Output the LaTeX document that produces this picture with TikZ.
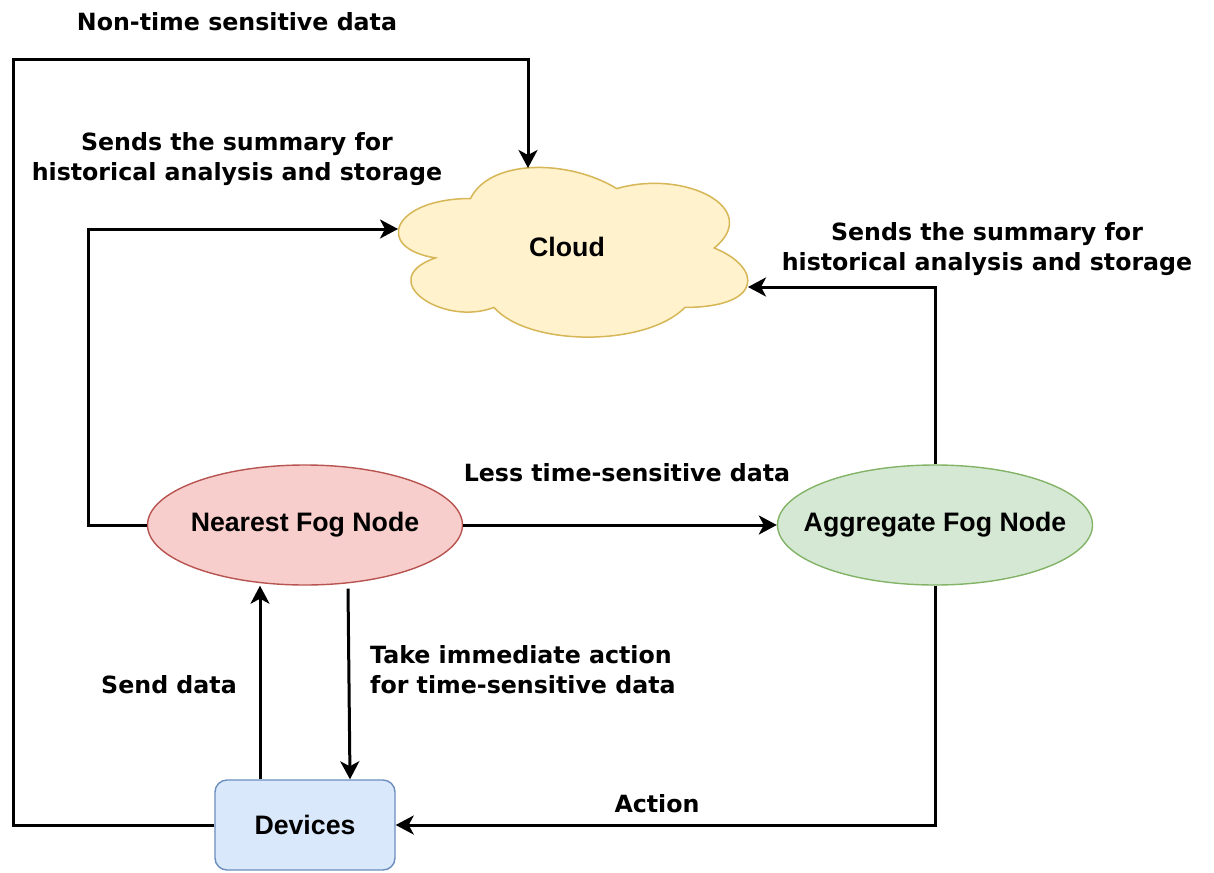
\documentclass[tikz,border=0pt]{standalone}
\usepackage{fontspec}
\setmainfont{Liberation Sans}
\newfontfamily\lblfont{DejaVu Sans}
\usetikzlibrary{arrows.meta,shapes.geometric,calc}
\definecolor{cloudfill}{HTML}{FFF2CC}
\definecolor{clouddraw}{HTML}{D6B656}
\definecolor{redfill}{HTML}{F8CECC}
\definecolor{reddraw}{HTML}{B85450}
\definecolor{greenfill}{HTML}{D5E8D4}
\definecolor{greendraw}{HTML}{82B366}
\definecolor{bluefill}{HTML}{DAE8FC}
\definecolor{bluedraw}{HTML}{6C8EBF}
\begin{document}
\begin{tikzpicture}[x=1pt,y=-1pt,
  conn/.style={line width=3pt,line join=miter,-{Stealth[length=18pt,width=19pt,inset=5pt]}},
  lbl/.style={font=\lblfont\bfseries\fontsize{23.7}{30}\selectfont,align=center,inner sep=0pt},
  nodetext/.style={font=\bfseries\fontsize{26.7}{30}\selectfont},
  fognode/.style={ellipse,minimum width=315pt,minimum height=120pt,line width=1.4pt,inner sep=0pt,nodetext}
]
\useasboundingbox (0,0) rectangle (1214,872);

% cloud shape
\draw[fill=cloudfill,draw=clouddraw,line width=1.5pt]
  (470.5,198.5)
  .. controls (392.5,198.5) and (373,248) .. (435.4,257.9)
  .. controls (373,279.7) and (443.2,327.2) .. (493.9,307.4)
  .. controls (529,347) and (646,347) .. (685,307.4)
  .. controls (763,307.4) and (763,267.8) .. (714.25,248)
  .. controls (763,208.4) and (685,168.8) .. (616.75,188.6)
  .. controls (568,158.9) and (490,158.9) .. (470.5,198.5) -- cycle;
\node[nodetext] (cl) at (567,247) {Cloud};
\coordinate (ctop) at (528,168);
\coordinate (cleft) at (398,229);
\coordinate (cright) at (748,287);

\node[fognode,draw=reddraw,fill=redfill] (nf) at (305,525) {\makebox[0pt]{Nearest Fog Node}};
\node[fognode,draw=greendraw,fill=greenfill] (af) at (935,525) {\makebox[0pt]{Aggregate Fog Node}};
\node[rectangle,rounded corners=12pt,draw=bluedraw,fill=bluefill,line width=1.4pt,minimum width=180pt,minimum height=90pt,nodetext] (dev) at (305,825) {Devices};

% connectors
\draw[conn] (dev.west) -| (13,60) -| (ctop);
\draw[conn] (nf.west) -| (88,229) -- (cleft);
\draw[conn] (af.north) |- (cright);
\draw[conn] (nf.east) -- (af.west);
\draw[conn] ($(dev.north)+(-45,0)$) -- ($(nf.south)+(-45,0)$);
\draw[conn] ($(nf.south)+(43,3)$) -- ($(dev.north)+(45,0)$);
\draw[conn] (af.south) |- (dev.east);

% labels
\node[lbl] (l1) at (237,22) {Non-time sensitive data};
\node[lbl] (l2) at (237,159) {Sends the summary for\\historical analysis and storage};
\node[lbl] (l3) at (987,249.5) {Sends the summary for\\historical analysis and storage};
\node[lbl] (l4) at (627,473) {Less time-sensitive data};
\node[lbl] (l5) at (169,685) {Send data};
\node[lbl,anchor=west,align=left] (l6) at (370,669.5) {Take immediate action\\for time-sensitive data};
\node[lbl] (l7) at (657,804) {Action};
\end{tikzpicture}
\end{document}
